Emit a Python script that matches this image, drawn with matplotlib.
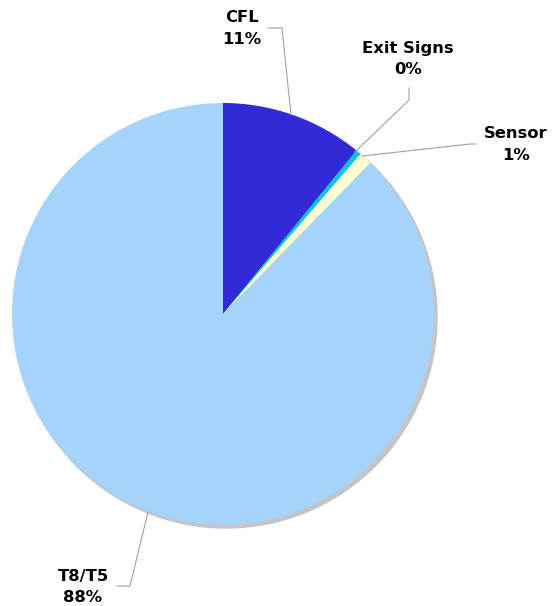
import matplotlib
matplotlib.use("Agg")
import matplotlib.pyplot as plt
from matplotlib.patches import Circle

# datos
labels = ["CFL", "Exit Signs", "Sensor", "T8/T5"]
values = [10.9, 0.4, 1.0, 87.7]
pct_text = ["11%", "0%", "1%", "88%"]
colors = ["#3229D8", "#00C8D8", "#FFFFD2", "#A6D3FA"]

H = 606
fig = plt.figure(figsize=(5.53, 6.06), dpi=100)
ax = fig.add_axes([0, 0, 1, 1])

cx, cy, r = 223, H - 314, 211

# sombra
ax.add_patch(Circle((cx + 3, cy - 3), r, color="#C4C4C4", zorder=1))

ax.pie(values, colors=colors, startangle=90, counterclock=False,
       center=(cx, cy), radius=r, frame=True,
       wedgeprops=dict(linewidth=0, zorder=2))
ax.set_xlim(0, 553)
ax.set_ylim(0, H)
ax.axis("off")

# etiquetas: (x, y de la primera línea) en pixeles
label_pos = [(242, 18), (408, 48), (516, 133), (83, 576)]
leaders = [
    [(268, 28), (282, 28), (291, 115)],
    [(409, 88), (409, 100), (355, 152)],
    [(476, 144), (470, 144), (362, 156)],
    [(117, 586), (130, 586), (148, 512)],
]

font = dict(fontsize=11.8, fontweight="bold", family="DejaVu Sans",
            fontstretch="normal", zorder=5)
for lab, pct, (x, y) in zip(labels, pct_text, label_pos):
    ax.text(x, H - y, lab, ha="center", va="center", **font)
    ax.text(x, H - y - 22, pct, ha="center", va="center", **font)

for pts in leaders:
    xs = [p[0] for p in pts]
    ys = [H - p[1] for p in pts]
    ax.plot(xs, ys, color="#A0A0A0", linewidth=0.8, zorder=4)

fig.savefig("out.png", dpi=100)
